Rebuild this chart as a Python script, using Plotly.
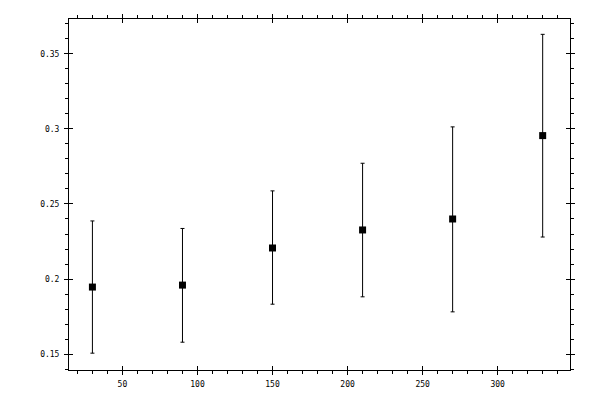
import plotly.graph_objects as go

# valeurs
x_vals = [30, 90, 150, 210, 270, 330]
y_vals = [0.1947, 0.1960, 0.2207, 0.2327, 0.2400, 0.2955]
y_upper = [0.2387, 0.2337, 0.2587, 0.2771, 0.3013, 0.3629]
y_lower = [0.1507, 0.1580, 0.1833, 0.1882, 0.1782, 0.2280]

err_plus = [u - y for u, y in zip(y_upper, y_vals)]
err_minus = [y - l for l, y in zip(y_lower, y_vals)]

x_range = [14.4, 348.2]
y_range = [0.1395, 0.3731]

fig = go.Figure()
fig.add_trace(go.Scatter(
    x=x_vals, y=y_vals, mode='markers',
    marker=dict(symbol='square', size=7, color='black'),
    error_y=dict(type='data', symmetric=False, array=err_plus, arrayminus=err_minus,
                 color='black', thickness=1, width=2),
    showlegend=False, hoverinfo='x+y'))

# trace vide pour faire exister les axes superposés (ticks vers l'intérieur)
fig.add_trace(go.Scatter(x=[None], y=[None], xaxis='x2', yaxis='y2',
                         showlegend=False, hoverinfo='skip'))

font = dict(family='DejaVu Sans Mono', size=8, color='black')

axe_commun = dict(showline=True, linecolor='black', linewidth=1, mirror='ticks',
                  ticks='outside', ticklen=4, tickwidth=1, tickcolor='black',
                  showgrid=False, zeroline=False, tickfont=font,
                  minor=dict(ticks='outside', ticklen=3, tickwidth=1, tickcolor='black', showgrid=False))

fig.update_layout(
    width=600, height=400,
    paper_bgcolor='white', plot_bgcolor='white',
    margin=dict(l=69, r=30, t=19, b=30),
    xaxis=dict(axe_commun, range=x_range, dtick=50, tick0=0, minor_dtick=10, ticklabelstandoff=2),
    yaxis=dict(axe_commun, range=y_range, dtick=0.05, tick0=0, minor_dtick=0.01, ticklabelstandoff=3),
    xaxis2=dict(overlaying='x', anchor='y2', range=x_range, dtick=50, tick0=0,
                ticks='inside', ticklen=4, tickwidth=1, tickcolor='black', mirror='ticks',
                showline=False, showticklabels=False, showgrid=False, zeroline=False),
    yaxis2=dict(overlaying='y', anchor='x2', range=y_range, dtick=0.05, tick0=0,
                ticks='inside', ticklen=4, tickwidth=1, tickcolor='black', mirror='ticks',
                showline=False, showticklabels=False, showgrid=False, zeroline=False),
)

# pas de marge autour de la page, pas de barre d'outils
fig.write_html("out.html", config={'displayModeBar': False},
               post_script="document.body.style.margin='0';")
